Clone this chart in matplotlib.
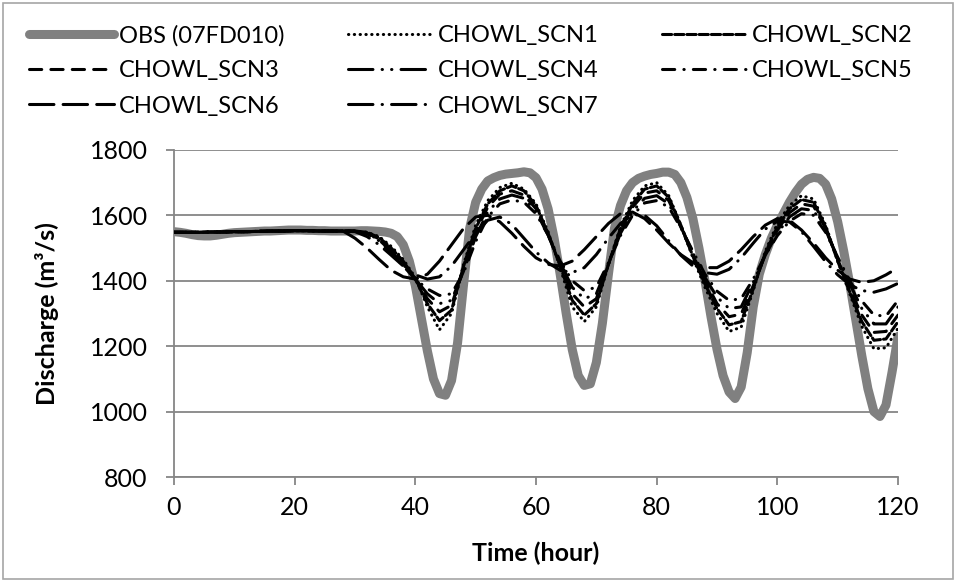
import matplotlib
matplotlib.use('Agg')
import matplotlib.pyplot as plt
from matplotlib.patches import Rectangle
import numpy as np

plt.rcParams['font.family'] = ['Lato', 'DejaVu Sans']

# observed discharge at 07FD010, hourly
obs_hours = np.arange(0, 121)
obs_flow = [1550, 1548, 1545, 1541, 1538, 1537, 1537, 1539, 1542, 1545,
            1547, 1548, 1549, 1550, 1551, 1552, 1552, 1553, 1554, 1555,
            1555, 1555, 1554, 1554, 1553, 1553, 1552, 1552, 1552, 1552,
            1552, 1553, 1553, 1552, 1551, 1549, 1545, 1535, 1510, 1460,
            1385, 1285, 1185, 1100, 1055, 1050, 1095, 1210, 1390, 1560,
            1640, 1680, 1705, 1715, 1722, 1726, 1728, 1730, 1733, 1730,
            1715, 1680, 1620, 1530, 1420, 1300, 1190, 1110, 1080, 1085,
            1150, 1270, 1420, 1560, 1630, 1675, 1700, 1713, 1720, 1725,
            1728, 1732, 1732, 1725, 1700, 1655, 1590, 1500, 1400, 1290,
            1190, 1110, 1060, 1040, 1075, 1180, 1320, 1420, 1480, 1530,
            1570, 1605, 1640, 1670, 1695, 1710, 1716, 1713, 1695, 1650,
            1580, 1490, 1390, 1280, 1170, 1070, 1000, 985, 1020, 1120,
            1230]

# simulated scenarios, every 2 hours
scn_hours = np.arange(0, 121, 2)
scn1 = [1548, 1548, 1548, 1549, 1549, 1550, 1550, 1551, 1552, 1552, 1553, 1553, 1552, 1552, 1552, 1552,
        1548, 1535, 1505, 1465, 1410, 1320, 1250, 1300, 1450, 1570, 1645, 1685, 1698, 1680, 1635,
        1550, 1440, 1320, 1275, 1320, 1450, 1565, 1645, 1690, 1700, 1660, 1570, 1470, 1380, 1300,
        1245, 1258, 1370, 1490, 1575, 1630, 1660, 1650, 1570, 1460, 1360, 1260, 1192, 1195, 1255]
scn2 = [1548, 1548, 1548, 1549, 1549, 1550, 1550, 1551, 1552, 1552, 1553, 1553, 1552, 1552, 1552, 1552,
        1548, 1532, 1500, 1460, 1405, 1330, 1278, 1310, 1445, 1560, 1635, 1675, 1690, 1675, 1630,
        1545, 1445, 1340, 1295, 1330, 1450, 1560, 1635, 1680, 1690, 1655, 1570, 1475, 1390, 1315,
        1265, 1275, 1375, 1485, 1565, 1620, 1648, 1640, 1565, 1460, 1365, 1275, 1218, 1222, 1275]
scn3 = [1548, 1548, 1548, 1549, 1549, 1550, 1550, 1551, 1552, 1552, 1553, 1553, 1552, 1552, 1552, 1552,
        1546, 1528, 1495, 1455, 1405, 1345, 1305, 1325, 1440, 1550, 1625, 1665, 1675, 1662, 1620,
        1540, 1450, 1360, 1320, 1345, 1450, 1555, 1625, 1668, 1675, 1645, 1565, 1478, 1400, 1330,
        1290, 1298, 1385, 1480, 1555, 1608, 1635, 1628, 1560, 1465, 1375, 1295, 1242, 1245, 1295]
scn4 = [1548, 1548, 1548, 1549, 1549, 1550, 1550, 1551, 1552, 1552, 1553, 1553, 1552, 1552, 1552, 1552,
        1545, 1525, 1490, 1450, 1405, 1360, 1330, 1340, 1430, 1535, 1610, 1650, 1662, 1652, 1612,
        1540, 1455, 1380, 1345, 1360, 1450, 1545, 1612, 1652, 1660, 1635, 1565, 1485, 1410, 1350,
        1315, 1320, 1395, 1478, 1545, 1595, 1620, 1615, 1555, 1470, 1390, 1315, 1268, 1268, 1320]
scn5 = [1548, 1548, 1548, 1549, 1549, 1550, 1550, 1551, 1552, 1552, 1553, 1553, 1552, 1552, 1552, 1552,
        1544, 1522, 1485, 1445, 1405, 1375, 1355, 1360, 1425, 1520, 1595, 1635, 1647, 1640, 1605,
        1540, 1460, 1400, 1370, 1380, 1455, 1538, 1600, 1638, 1645, 1625, 1562, 1490, 1420, 1368,
        1340, 1345, 1405, 1478, 1538, 1582, 1605, 1600, 1548, 1472, 1400, 1338, 1295, 1292, 1340]
scn6 = [1548, 1548, 1548, 1549, 1549, 1550, 1550, 1551, 1552, 1552, 1553, 1553, 1552, 1552, 1552, 1530,
        1500, 1465, 1432, 1412, 1405, 1420, 1460, 1510, 1560, 1595, 1600, 1580, 1545, 1505, 1470,
        1450, 1445, 1460, 1495, 1535, 1575, 1605, 1610, 1590, 1555, 1515, 1480, 1455, 1440, 1440,
        1460, 1495, 1535, 1570, 1590, 1585, 1555, 1515, 1470, 1432, 1405, 1395, 1400, 1418, 1440]
scn7 = [1548, 1548, 1548, 1549, 1549, 1550, 1550, 1551, 1552, 1552, 1553, 1553, 1552, 1552, 1552, 1550,
        1535, 1510, 1478, 1445, 1418, 1405, 1412, 1445, 1495, 1545, 1585, 1595, 1572, 1530, 1488,
        1455, 1432, 1425, 1440, 1480, 1530, 1575, 1602, 1600, 1568, 1522, 1478, 1445, 1425, 1420,
        1435, 1470, 1515, 1558, 1582, 1580, 1550, 1505, 1458, 1418, 1388, 1370, 1365, 1375, 1392]

scn_labels = ['CHOWL_SCN1', 'CHOWL_SCN2', 'CHOWL_SCN3', 'CHOWL_SCN4',
              'CHOWL_SCN5', 'CHOWL_SCN6', 'CHOWL_SCN7']

# excel-like dash patterns: sysDot, sysDash, dash, lgDashDotDot, dashDot, lgDash, lgDashDot
scn_styles = [(0, (0.1, 1.8)), (0, (3, 1)), (0, (4, 3)), (0, (8, 3, 0.1, 3, 0.1, 3)),
              (0, (4, 3, 0.1, 3)), (0, (8, 3)), (0, (8, 3, 0.1, 3))]

grey = '#868686'

fig = plt.figure(figsize=(9.57, 5.81), dpi=100)
ax = fig.add_axes([0.1818, 0.179, 0.7566, 0.563])

obs_line, = ax.plot(obs_hours, obs_flow, color='#808080', lw=6.5,
                    solid_capstyle='round', solid_joinstyle='round', label='OBS (07FD010)', zorder=2)
scn_lines = []
for vals, lab, ls in zip([scn1, scn2, scn3, scn4, scn5, scn6, scn7], scn_labels, scn_styles):
    ln, = ax.plot(scn_hours, vals, color='black', lw=2.2, linestyle=ls,
                  dash_capstyle='round', label=lab, zorder=3)
    scn_lines.append(ln)

ax.set_xlim(0, 120)
ax.set_ylim(800, 1800)
ax.set_xticks(np.arange(0, 121, 20))
ax.set_yticks(np.arange(800, 1801, 200))
ax.yaxis.grid(True, color=grey, lw=1.3)
ax.set_axisbelow(True)
for side in ['top', 'right']:
    ax.spines[side].set_visible(False)
for side in ['left', 'bottom']:
    ax.spines[side].set_color(grey)
    ax.spines[side].set_linewidth(1.3)
ax.tick_params(axis='both', colors=grey, length=6, width=1.3, labelcolor='black', labelsize=18)
ax.tick_params(axis='y', pad=13)
ax.tick_params(axis='x', pad=8)

ax.set_xlabel('Time (hour)', fontsize=18, fontweight='bold', labelpad=16)
ax.set_ylabel('Discharge (m³/s)', fontsize=18, fontweight='bold', labelpad=22)

# legend reads row by row, matplotlib fills columns first
order = [obs_line, scn_lines[2], scn_lines[5], scn_lines[0], scn_lines[3],
         scn_lines[6], scn_lines[1], scn_lines[4]]
fig.legend(order, [h.get_label() for h in order], loc='upper left',
           bbox_to_anchor=(0.008, 0.994), ncol=3, frameon=False, fontsize=17,
           handlelength=3.6, handletextpad=0.2, columnspacing=2.7, labelspacing=0.6)

fig.patches.append(Rectangle((0.003, 0.004), 0.993, 0.991, transform=fig.transFigure,
                             fill=False, edgecolor='#a6a6a6', lw=1.2))

fig.savefig('out.png', dpi=100)
